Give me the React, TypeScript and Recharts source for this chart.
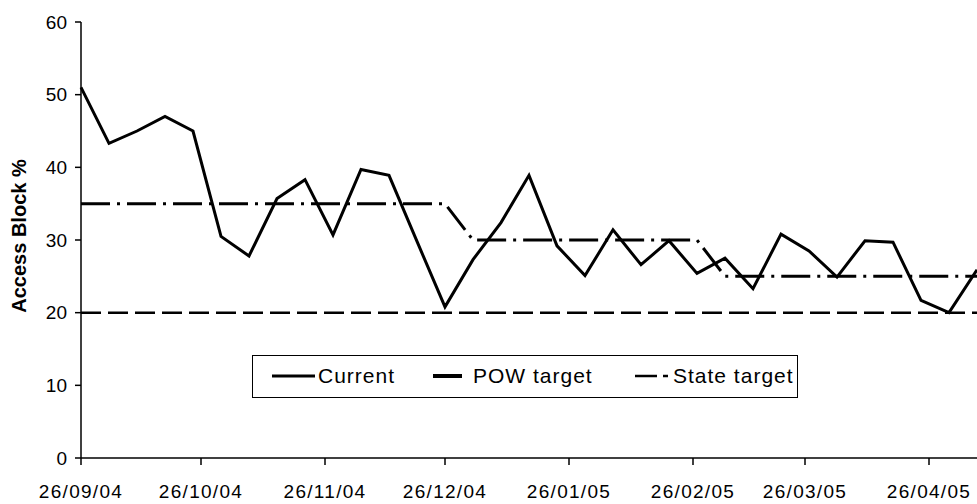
import { Line, LineChart, XAxis, YAxis } from "recharts";

const FONT = "'Liberation Sans', Arial, Helvetica, sans-serif";

// days since 26/09/04, one reading a week
const days = [
  0, 7, 14, 21, 28, 35, 42, 49, 56, 63, 70, 77, 84, 91, 98, 105, 112, 119,
  126, 133, 140, 147, 154, 161, 168, 175, 182, 189, 196, 203, 210, 217, 224,
];

const current = [
  51, 43.3, 45, 47, 45, 30.5, 27.8, 35.7, 38.3, 30.7, 39.7, 38.9, 29.8, 20.8,
  27.3, 32.4, 38.9, 29.2, 25.1, 31.4, 26.6, 29.9, 25.4, 27.5, 23.3, 30.8, 28.5,
  24.9, 29.9, 29.7, 21.7, 20, 25.9,
];

const powTarget = [
  35, 35, 35, 35, 35, 35, 35, 35, 35, 35, 35, 35, 35, 35, 30, 30, 30, 30, 30,
  30, 30, 30, 30, 25, 25, 25, 25, 25, 25, 25, 25, 25, 25,
];

const stateTarget = [
  20, 20, 20, 20, 20, 20, 20, 20, 20, 20, 20, 20, 20, 20, 20, 20, 20, 20, 20,
  20, 20, 20, 20, 20, 20, 20, 20, 20, 20, 20, 20, 20, 20,
];

const tickDays = [0, 30, 61, 91, 122, 153, 181, 212];
const tickLabels = [
  "26/09/04",
  "26/10/04",
  "26/11/04",
  "26/12/04",
  "26/01/05",
  "26/02/05",
  "26/03/05",
  "26/04/05",
];

const yTicks = [0, 10, 20, 30, 40, 50, 60];

const data = days.map((d, i) => ({
  day: d,
  current: current[i],
  pow: powTarget[i],
  state: stateTarget[i],
}));

function LegendBox() {
  const txt = { position: "absolute" as const, top: 8, letterSpacing: 1, whiteSpace: "nowrap" as const };
  return (
    <div
      style={{
        position: "absolute",
        left: 252,
        top: 355,
        boxSizing: "border-box",
        width: 546,
        height: 43,
        border: "1.5px solid #000",
        fontFamily: FONT,
        fontSize: 21,
        lineHeight: "24px",
        color: "#000",
        background: "#fff",
      }}
    >
      <svg width={546} height={43} style={{ position: "absolute", left: -1.5, top: -1.5 }}>
        <line x1={20} x2={63} y1={21} y2={21} stroke="#000" strokeWidth={3} />
        <line x1={181} x2={210} y1={21} y2={21} stroke="#000" strokeWidth={4} />
        <line x1={383} x2={405} y1={21} y2={21} stroke="#000" strokeWidth={2.5} />
        <line x1={411} x2={416} y1={21} y2={21} stroke="#000" strokeWidth={2.5} />
      </svg>
      <span style={{ ...txt, left: 65 }}>Current</span>
      <span style={{ ...txt, left: 220 }}>POW target</span>
      <span style={{ ...txt, left: 420 }}>State target</span>
    </div>
  );
}

export default function App() {
  return (
    <div style={{ position: "absolute", left: 0, top: 0, width: 977, height: 504, background: "#fff" }}>
      <LineChart
        width={977}
        height={504}
        data={data}
        margin={{ top: 22, right: 0, bottom: 0, left: 0 }}
      >
        <XAxis
          dataKey="day"
          type="number"
          domain={[0, 224]}
          ticks={tickDays}
          tickFormatter={(v) => tickLabels[tickDays.indexOf(v)] ?? ""}
          interval={0}
          height={46}
          stroke="#000"
          strokeWidth={1.5}
          tickSize={7}
          tickMargin={20}
          tick={{ fill: "#000", fontSize: 19, fontFamily: FONT, letterSpacing: 1.3 }}
        />
        <YAxis
          domain={[0, 60]}
          ticks={yTicks}
          interval={0}
          width={81}
          stroke="#000"
          strokeWidth={1.5}
          tickSize={6}
          tickMargin={8}
          tick={{ fill: "#000", fontSize: 19, fontFamily: FONT }}
          label={{
            content: () => (
              <text
                x={26}
                y={236}
                transform="rotate(-90 26 236)"
                textAnchor="middle"
                fontFamily={FONT}
                fontSize={20}
                fontWeight="bold"
                fill="#000"
              >
                Access Block %
              </text>
            ),
          }}
        />
        <Line
          type="linear"
          dataKey="state"
          name="State target"
          stroke="#000"
          strokeWidth={2.5}
          strokeDasharray="20 7"
          dot={false}
          isAnimationActive={false}
        />
        <Line
          type="linear"
          dataKey="pow"
          name="POW target"
          stroke="#000"
          strokeWidth={3}
          strokeDasharray="29 7 3 7"
          dot={false}
          isAnimationActive={false}
        />
        <Line
          type="linear"
          dataKey="current"
          name="Current"
          stroke="#000"
          strokeWidth={3}
          dot={false}
          isAnimationActive={false}
        />
      </LineChart>
      <LegendBox />
    </div>
  );
}
